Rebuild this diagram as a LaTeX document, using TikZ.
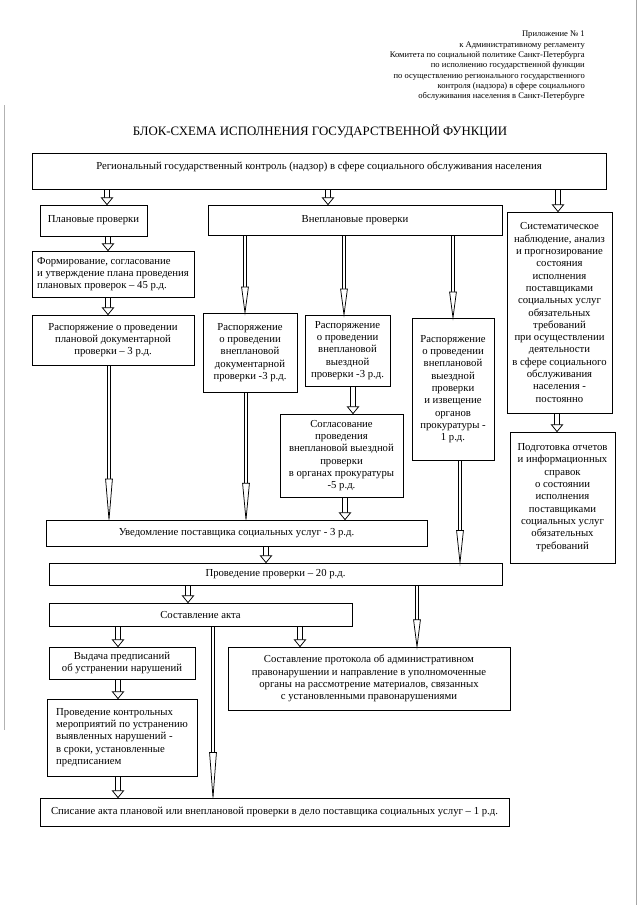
\documentclass[tikz,border=0pt]{standalone}
\usepackage{fontspec}
\setmainfont{Liberation Serif}
\usetikzlibrary{decorations.markings}

\newdimen\px \px=0.328125mm

\tikzset{
  box/.style={draw, line width=0.75pt, align=center, inner sep=1pt,
    font=\fontsize{10}{11.5}\selectfont},
  hollowhead/.style 2 args={postaction={decorate, decoration={markings,
      mark=at position 1 with {\draw[draw=black, fill=white, line width=0.7pt, shorten >=0pt, shorten <=0pt]
        (0,0) -- (-#1,#2) -- (-#1,-#2) -- cycle;}}}},
  blockarrow/.style n args={3}{draw=white, line width=#3, shorten >=#1, shorten <=0.7pt,
    preaction={draw=black, line width=#3+1.8pt, shorten <=0pt}, hollowhead={#1}{#2}},
  sarr/.style={blockarrow={6.5pt}{5.3pt}{3.6pt}},
  larr/.style={blockarrow={#1}{3.2pt}{2.4pt}},
  larr/.default=24pt
}

\begin{document}
\begin{tikzpicture}[x=0.328125mm, y=-0.328125mm]
  \useasboundingbox (0,0) rectangle (640,905);

  % Поля скана
  \draw[gray!60, line width=0.5pt] (4,105) -- (4,730);
  \draw[gray!70, line width=0.6pt] (636,0) -- (636,905);

  % Шапка
  \node[anchor=north east, align=right, inner sep=0pt, font=\fontsize{8}{9.6}\selectfont] (annex) at (585,31)
    {Приложение № 1\\к Административному регламенту\\Комитета по социальной политике Санкт-Петербурга\\
     по исполнению государственной функции\\по осуществлению регионального государственного\\
     контроля (надзора) в сфере социального\\обслуживания населения в Санкт-Петербурге};
  \node[font=\fontsize{12}{14}\selectfont] (title) at (320,131) {БЛОК-СХЕМА ИСПОЛНЕНИЯ ГОСУДАРСТВЕННОЙ ФУНКЦИИ};

  % Блоки
  \node[box, minimum width=574\px, minimum height=36\px, text depth=10pt] (top) at (319,171)
    {Региональный государственный контроль (надзор) в сфере социального обслуживания населения};
  \node[box, minimum width=107\px, minimum height=31\px] (plan) at (93.5,220.5) {Плановые проверки};
  \node[box, minimum width=294\px, minimum height=30\px] (unplan) at (355,220) {Внеплановые проверки};
  \node[box, minimum width=105\px, minimum height=201\px] (watch) at (559.5,312.5)
    {Систематическое\\наблюдение, анализ\\и прогнозирование\\состояния\\исполнения\\поставщиками\\социальных услуг\\
     обязательных\\требований\\при осуществлении\\деятельности\\в сфере социального\\обслуживания\\населения -\\постоянно};
  \node[box, align=left, minimum width=162\px, minimum height=46\px] (form) at (113,274)
    {Формирование, согласование\\и утверждение плана проведения\\плановых проверок – 45 р.д.};
  \node[box, minimum width=162\px, minimum height=50\px] (planord) at (113,340)
    {Распоряжение о проведении\\плановой документарной\\проверки – 3 р.д.};
  \node[box, minimum width=94\px, minimum height=79\px] (docord) at (250,352.5)
    {Распоряжение\\о проведении\\внеплановой\\документарной\\проверки -3 р.д.};
  \node[box, minimum width=85\px, minimum height=71\px] (siteord) at (347.5,350.5)
    {Распоряжение\\о проведении\\внеплановой\\выездной\\проверки -3 р.д.};
  \node[box, minimum width=82\px, minimum height=142\px] (urgord) at (453,389)
    {Распоряжение\\о проведении\\внеплановой\\выездной\\проверки\\и извещение\\органов\\прокуратуры -\\1 р.д.};
  \node[box, minimum width=123\px, minimum height=83\px] (agree) at (341.5,455.5)
    {Согласование\\проведения\\внеплановой выездной\\проверки\\в органах прокуратуры\\-5 р.д.};
  \node[box, minimum width=105\px, minimum height=131\px] (report) at (562.5,497.5)
    {Подготовка отчетов\\и информационных\\справок\\о состоянии\\исполнения\\поставщиками\\социальных услуг\\
     обязательных\\требований};
  \node[box, minimum width=381\px, minimum height=26\px] (notify) at (236.5,533)
    {Уведомление поставщика социальных услуг - 3 р.д.};
  \node[box, minimum width=453\px, minimum height=22\px] (check) at (275.5,574)
    {Проведение проверки – 20 р.д.};
  \node[box, minimum width=303\px, minimum height=23\px] (act) at (200.5,614.5) {Составление акта};
  \node[box, minimum width=146\px, minimum height=32\px] (order) at (122,663)
    {Выдача предписаний\\об устранении нарушений};
  \node[box, minimum width=282\px, minimum height=63\px] (protocol) at (369,678.5)
    {Составление протокола об административном\\правонарушении и направление в уполномоченные\\
     органы на рассмотрение материалов, связанных\\с установленными правонарушениями};
  \node[box, align=left, minimum width=150\px, minimum height=77\px] (control) at (122,737.5)
    {Проведение контрольных\\мероприятий по устранению\\выявленных нарушений -\\в сроки, установленные\\предписанием};
  \node[box, minimum width=469\px, minimum height=28\px] (writeoff) at (274.5,812)
    {Списание акта плановой или внеплановой проверки в дело поставщика социальных услуг – 1 р.д.};

  % Стрелки
  \draw[sarr] (top.south -| 107,0) -- (plan.north -| 107,0);
  \draw[sarr] (top.south -| 328,0) -- (unplan.north -| 328,0);
  \draw[sarr] (top.south -| 558,0) -- (watch.north -| 558,0);
  \draw[sarr] (plan.south -| 108,0) -- (form.north -| 108,0);
  \draw[sarr] (form.south -| 108,0) -- (planord.north -| 108,0);
  \draw[larr] (unplan.south -| 245,0) -- (docord.north -| 245,0);
  \draw[larr] (unplan.south -| 344,0) -- (siteord.north -| 344,0);
  \draw[larr] (unplan.south -| 453,0) -- (urgord.north -| 453,0);
  \draw[sarr] (siteord.south -| 353,0) -- (agree.north -| 353,0);
  \draw[sarr] (watch.south -| 557,0) -- (report.north -| 557,0);
  \draw[larr=38pt] (planord.south -| 109,0) -- (notify.north -| 109,0);
  \draw[larr=34pt] (docord.south -| 246,0) -- (notify.north -| 246,0);
  \draw[sarr] (agree.south -| 345,0) -- (notify.north -| 345,0);
  \draw[larr=30pt] (urgord.south -| 460,0) -- (check.north -| 460,0);
  \draw[sarr] (notify.south -| 266,0) -- (check.north -| 266,0);
  \draw[sarr] (check.south -| 188,0) -- (act.north -| 188,0);
  \draw[larr=25pt] (check.south -| 417,0) -- (protocol.north -| 417,0);
  \draw[sarr] (act.south -| 118,0) -- (order.north -| 118,0);
  \draw[sarr] (act.south -| 300,0) -- (protocol.north -| 300,0);
  \draw[larr=42pt] (act.south -| 213,0) -- (writeoff.north -| 213,0);
  \draw[sarr] (order.south -| 118,0) -- (control.north -| 118,0);
  \draw[sarr] (control.south -| 118,0) -- (writeoff.north -| 118,0);
\end{tikzpicture}
\end{document}
